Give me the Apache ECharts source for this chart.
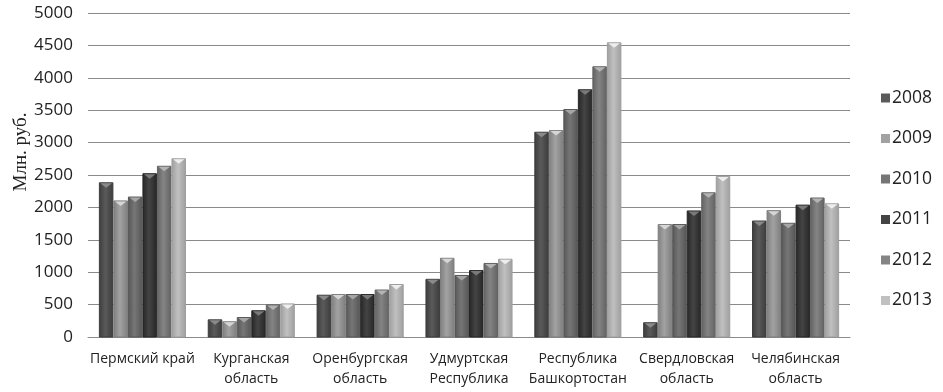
<!DOCTYPE html>
<html>
<head>
<meta charset="utf-8">
<script src="https://cdn.jsdelivr.net/npm/echarts@6/dist/echarts.min.js"></script>
<style>
  html, body { margin: 0; padding: 0; background: #fff; }
  #chart { width: 943px; height: 392px; }
</style>
</head>
<body>
<div id="chart"></div>
<script>
// Regions (two-line labels split with \n)
const regions = [
  'Пермский край',
  'Курганская\nобласть',
  'Оренбургская\nобласть',
  'Удмуртская\nРеспублика',
  'Республика\nБашкортостан',
  'Свердловская\nобласть',
  'Челябинская\nобласть'
];

const years = ['2008', '2009', '2010', '2011', '2012', '2013'];

// Млн. руб. per region, one array per year
const v2008 = [2380, 265, 645, 890, 3160, 220, 1790];
const v2009 = [2100, 235, 655, 1215, 3185, 1735, 1950];
const v2010 = [2160, 300, 655, 950, 3510, 1735, 1755];
const v2011 = [2520, 405, 655, 1025, 3815, 1945, 2035];
const v2012 = [2635, 495, 725, 1135, 4170, 2225, 2145];
const v2013 = [2750, 510, 810, 1200, 4540, 2475, 2055];

const yTicks = { min: 0, max: 5000, step: 500 };

const seriesValues = [v2008, v2009, v2010, v2011, v2012, v2013];

// Grey shades per year: [edge, centre, top highlight]
const shades = [
  ['#3c3c3c', '#5a5a5a', '#8a8a8a'],
  ['#7e7e7e', '#a2a2a2', '#d6d6d6'],
  ['#565656', '#767676', '#a6a6a6'],
  ['#262626', '#444444', '#7a7a7a'],
  ['#626262', '#848484', '#b4b4b4'],
  ['#9e9e9e', '#c0c0c0', '#eeeeee']
];

const groupShare = 0.8;

function barRenderer(idx) {
  const sh = shades[idx];
  return function (params, api) {
    const cat = api.value(0);
    const val = api.value(1);
    const topPt = api.coord([cat, val]);
    const basePt = api.coord([cat, 0]);
    const band = api.size([1, 0])[0];
    const groupW = band * groupShare;
    const w = groupW / years.length;
    const x = topPt[0] - groupW / 2 + idx * w;
    const y = topPt[1];
    const h = basePt[1] - topPt[1];
    const triH = Math.min(5, h);
    return {
      type: 'group',
      children: [
        {
          type: 'rect',
          shape: { x: x + 0.5, y: y, width: w - 1, height: h },
          style: {
            fill: {
              type: 'linear', x: 0, y: 0, x2: 1, y2: 0,
              colorStops: [
                { offset: 0, color: sh[0] },
                { offset: 0.45, color: sh[1] },
                { offset: 1, color: sh[0] }
              ]
            },
            stroke: sh[0],
            lineWidth: 1
          }
        },
        {
          type: 'polygon',
          shape: { points: [[x + 1.5, y + 0.5], [x + w - 1.5, y + 0.5], [x + w / 2, y + triH]] },
          style: { fill: sh[2] }
        }
      ]
    };
  };
}

const series = years.map(function (yr, i) {
  return {
    name: yr,
    type: 'custom',
    renderItem: barRenderer(i),
    itemStyle: { color: shades[i][1] },
    encode: { x: 0, y: 1 },
    data: seriesValues[i].map(function (v, c) { return [c, v]; })
  };
});

const chart = echarts.init(document.getElementById('chart'));
chart.setOption({
  animation: false,
  backgroundColor: '#ffffff',
  grid: { left: 88, right: 93, top: 13, bottom: 55 },
  legend: {
    orient: 'vertical',
    left: 876,
    top: 84,
    icon: 'rect',
    itemWidth: 9,
    itemHeight: 9,
    itemGap: 22.5,
    data: years,
    textStyle: { fontFamily: 'Open Sans', fontSize: 17.5, color: '#222', padding: [0, 0, 0, -3] }
  },
  graphic: [{
    type: 'text',
    x: 21,
    y: 152,
    rotation: Math.PI / 2,
    style: {
      text: 'Млн. руб.',
      font: '19px "Liberation Serif"',
      fill: '#222',
      align: 'center',
      verticalAlign: 'middle'
    }
  }],
  xAxis: {
    type: 'category',
    data: regions,
    axisLine: { show: true, lineStyle: { color: '#8a8a8a', width: 1 } },
    axisTick: { show: false },
    axisLabel: {
      interval: 0,
      margin: 12,
      fontFamily: 'Open Sans',
      fontSize: 14,
      lineHeight: 20,
      color: '#222'
    }
  },
  yAxis: {
    type: 'value',
    min: yTicks.min,
    max: yTicks.max,
    interval: yTicks.step,
    axisLine: { show: false },
    axisTick: { show: false },
    splitLine: { lineStyle: { color: '#8a8a8a', width: 1 } },
    axisLabel: {
      margin: 15,
      fontFamily: 'Open Sans',
      fontSize: 17,
      color: '#222',
      formatter: function (v) { return String(v); }
    }
  },
  series: series
});
</script>
</body>
</html>
